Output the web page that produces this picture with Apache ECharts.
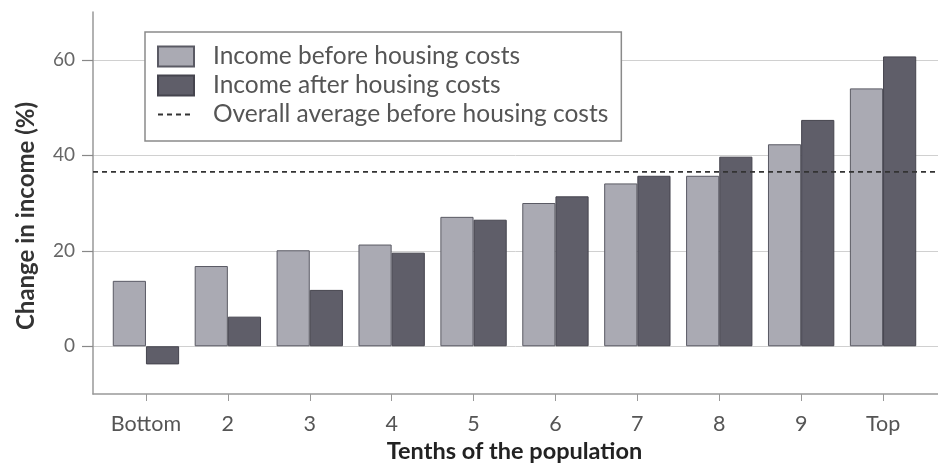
<!DOCTYPE html>
<html>
<head>
<meta charset="utf-8">
<script src="https://cdn.jsdelivr.net/npm/echarts@6/dist/echarts.min.js"></script>
<style>
  html, body { margin: 0; padding: 0; background: #fff; }
  #income-chart { width: 938px; height: 464px; }
</style>
</head>
<body>
<div id="income-chart"></div>
<script>
var tenths = ['Bottom', '2', '3', '4', '5', '6', '7', '8', '9', 'Top'];
var beforeHousing = [13.7, 16.8, 20.1, 21.3, 27.1, 30.0, 34.1, 35.7, 42.3, 54.0];
var afterHousing = [-3.8, 6.2, 11.8, 19.6, 26.5, 31.4, 35.7, 39.7, 47.4, 60.7];
var overallAverage = 36.5;
var yTickLabels = [0, 20, 40, 60];

var font = 'Lato, "Open Sans", sans-serif';

var incomeChart = echarts.init(document.getElementById('income-chart'));

var option = {
    animation: false,
    textStyle: { fontFamily: font },
    legend: {
        orient: 'vertical',
        left: 145,
        top: 32,
        padding: [12, 13, 14, 12],
        itemWidth: 36,
        itemHeight: 20,
        itemGap: 4,
        backgroundColor: '#fff',
        borderColor: '#8a8a8a',
        borderWidth: 1.5,
        textStyle: { fontSize: 24.5, color: '#555', fontFamily: font, padding: [0, 0, 0, 14] },
        data: [
            { name: 'Income before housing costs', icon: 'rect' },
            { name: 'Income after housing costs', icon: 'rect' },
            { name: 'Overall average before housing costs', itemStyle: { opacity: 0 } }
        ]
    },
    grid: [
        // frame: full width gridlines, axes and the average line
        { left: 93, right: 0, top: 12, bottom: 70, outerBoundsMode: 'none' },
        // bars
        { left: 105, right: 14, top: 12, bottom: 70, outerBoundsMode: 'none' }
    ],
    xAxis: [
        {
            gridIndex: 0, type: 'value', min: 0, max: 1,
            axisLine: { onZero: false, lineStyle: { color: '#999', width: 1.5 } },
            axisTick: { show: false }, axisLabel: { show: false }, splitLine: { show: false }
        },
        {
            gridIndex: 1, type: 'category', data: tenths,
            axisLine: { show: false, onZero: false },
            axisTick: { show: true, alignWithLabel: true, length: 7, lineStyle: { color: '#999' } },
            axisLabel: { fontSize: 21.5, color: '#555', margin: 19, interval: 0, fontFamily: font },
            name: 'Tenths of the population',
            nameLocation: 'middle',
            nameGap: 45,
            nameTextStyle: { fontSize: 23.5, color: '#222', fontWeight: 'bold', fontFamily: font }
        }
    ],
    yAxis: [
        {
            gridIndex: 0, type: 'value', min: -10, max: 70, interval: 10,
            axisLine: { show: true, lineStyle: { color: '#999', width: 1.5 } },
            axisTick: { show: true, length: 11, customValues: yTickLabels, lineStyle: { color: '#888', width: 1.2 } },
            axisLabel: {
                fontSize: 19, color: '#666', margin: 18, fontFamily: font,
                customValues: yTickLabels
            },
            splitLine: { show: true, lineStyle: { color: '#d0d0d0', width: 1 } },
            name: 'Change in income (%)',
            nameLocation: 'middle',
            nameGap: 55,
            nameTextStyle: { fontSize: 24, color: '#333', fontWeight: 'bold', fontFamily: font, padding: [0, 26, 0, 0] }
        },
        {
            gridIndex: 1, type: 'value', min: -10, max: 70, interval: 10,
            axisLine: { show: false }, axisTick: { show: false },
            axisLabel: { show: false }, splitLine: { show: false }
        }
    ],
    series: [
        {
            name: 'Income before housing costs',
            type: 'bar',
            xAxisIndex: 1, yAxisIndex: 1,
            barGap: '0%',
            barCategoryGap: '19%',
            itemStyle: { color: '#aaaab3', borderColor: '#5a5a64', borderWidth: 1 },
            data: beforeHousing
        },
        {
            name: 'Income after housing costs',
            type: 'bar',
            xAxisIndex: 1, yAxisIndex: 1,
            itemStyle: { color: '#5f5e69', borderColor: '#45444e', borderWidth: 1 },
            data: afterHousing
        },
        {
            name: 'Overall average before housing costs',
            type: 'line',
            xAxisIndex: 0, yAxisIndex: 0,
            symbol: 'none',
            z: 5,
            lineStyle: { color: '#333', width: 1.8, type: [5, 4] },
            itemStyle: { color: '#333' },
            data: [[0, overallAverage], [1, overallAverage]]
        }
    ]
};

incomeChart.setOption(option);
</script>
</body>
</html>
